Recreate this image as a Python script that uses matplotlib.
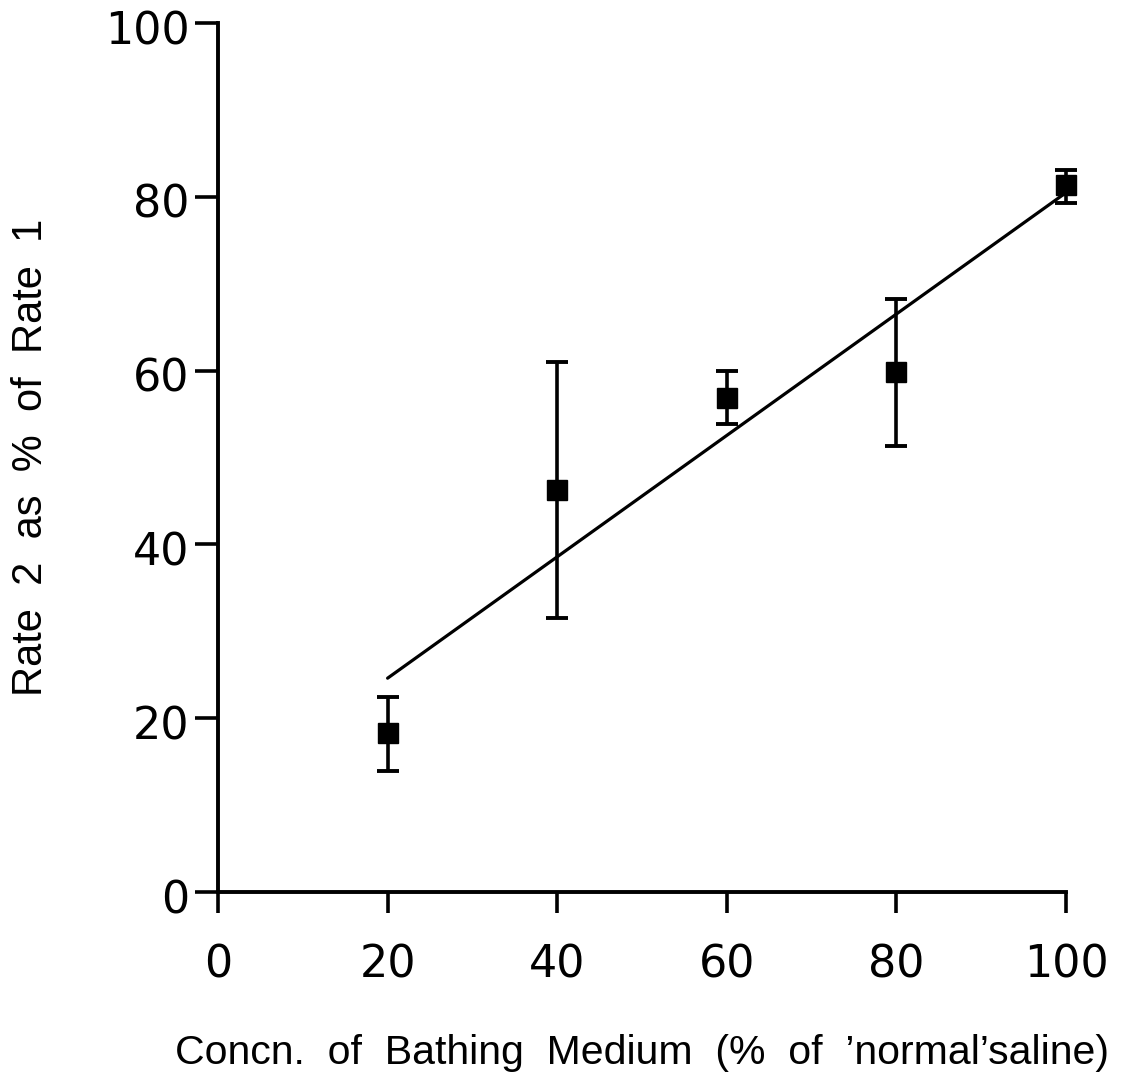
import matplotlib
matplotlib.use("Agg")
import matplotlib.pyplot as plt
import numpy as np

# bathing medium concentration (% of normal saline)
conc = [20, 40, 60, 80, 100]
# rate 2 as % of rate 1, with lower / upper error bar ends
rate = [18.3, 46.3, 56.9, 59.8, 81.4]
err_low = [13.9, 31.5, 53.8, 51.3, 79.3]
err_high = [22.4, 61.0, 59.9, 68.2, 83.1]

x_ticks = [0, 20, 40, 60, 80, 100]
y_ticks = [0, 20, 40, 60, 80, 100]

x = np.array(conc)
y = np.array(rate)
yerr = np.array([y - np.array(err_low), np.array(err_high) - y])

fig = plt.figure(figsize=(11.33, 10.9), dpi=100)
ax = fig.add_axes([0.1924, 0.1817, 0.7485, 0.7972])

# linear regression line
a, b = np.polyfit(x, y, 1)
xf = np.array([conc[0], conc[-1]])
ax.plot(xf, a*xf + b, color="black", lw=2.3, solid_capstyle="round", zorder=2)

ax.errorbar(x, y, yerr=yerr, fmt="s", color="black", ms=14, lw=2.6,
            capsize=8, capthick=2.8, zorder=3, clip_on=False)

ax.set_xlim(0, 100)
ax.set_ylim(0, 100)
ax.set_xticks(x_ticks)
ax.set_yticks(y_ticks)
ax.set_xticklabels([str(t) for t in x_ticks], fontsize=32)
ax.set_yticklabels([str(t) for t in y_ticks], fontsize=32)

for s in ["top", "right"]:
    ax.spines[s].set_visible(False)
for s in ["left", "bottom"]:
    ax.spines[s].set_linewidth(2.8)

ax.tick_params(axis="x", direction="out", length=15, width=2.6, pad=22)
ax.tick_params(axis="y", direction="out", length=16.5, width=2.6, pad=4)
# y tick labels sit a little below their ticks in the original
for lbl in ax.get_yticklabels():
    lbl.set_transform(lbl.get_transform() + matplotlib.transforms.ScaledTranslation(0, -3/72, fig.dpi_scale_trans))

ax.set_xlabel("Concn.  of  Bathing  Medium  (%  of  \u2019normal\u2019saline)",
              fontsize=29.5, family="Liberation Sans", labelpad=34)
ax.set_ylabel("Rate  2  as  %  of  Rate  1", fontsize=30,
              family="Liberation Sans", labelpad=39)

fig.savefig("out.png", dpi=100)
